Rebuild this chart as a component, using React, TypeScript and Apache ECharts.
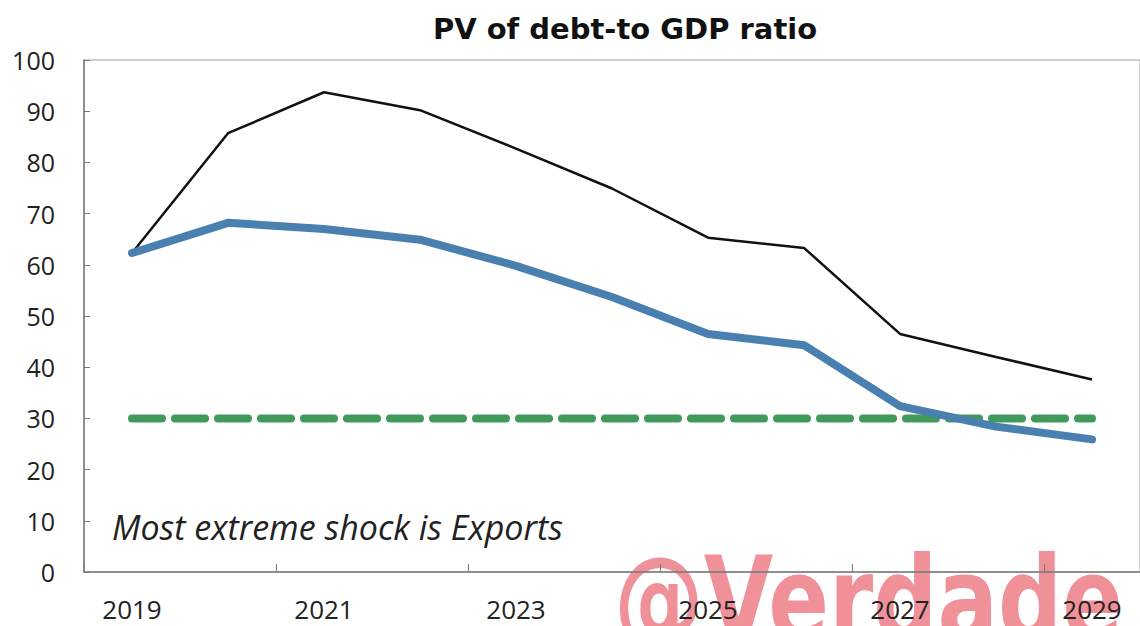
import React, { useEffect, useRef } from "react";
import * as echarts from "echarts";

const years = ["2019", "2020", "2021", "2022", "2023", "2024", "2025", "2026", "2027", "2028", "2029"];
const extremeShock = [62.3, 85.7, 93.7, 90.2, 82.7, 74.9, 65.3, 63.3, 46.5, 42.0, 37.6];
const baseline = [62.3, 68.2, 67.0, 64.9, 59.8, 53.7, 46.5, 44.3, 32.4, 28.4, 25.9];
const threshold = [30, 30, 30, 30, 30, 30, 30, 30, 30, 30, 30];

const titleText = "PV of debt-to GDP ratio";
const noteText = "Most extreme shock is Exports";
const watermarkText = "@Verdade";

export default function App() {
  const ref = useRef<HTMLDivElement>(null);

  useEffect(() => {
    if (!ref.current) return;
    const chart = echarts.init(ref.current, undefined, { renderer: "svg" });
    const font = "'Open Sans', 'Noto Sans', sans-serif";
    chart.setOption({
      animation: false,
      backgroundColor: "#ffffff",
      title: {
        text: titleText,
        left: 620,
        top: 9,
        textAlign: "center",
        textStyle: { fontFamily: "'DejaVu Sans', sans-serif", fontSize: 29, fontWeight: "bold", color: "#111" },
      },
      grid: {
        left: 84,
        top: 60,
        bottom: 54,
        right: -9,
        show: true,
        borderColor: "#a0a0a0",
        borderWidth: 1,
        backgroundColor: "transparent",
      },
      xAxis: {
        type: "category",
        data: years,
        boundaryGap: true,
        axisLine: { lineStyle: { color: "#7a7a7a", width: 1.5 } },
        axisTick: { show: true, inside: true, interval: 1, length: 8, lineStyle: { color: "#7a7a7a" } },
        axisLabel: { interval: 1, margin: 24, fontFamily: font, fontSize: 26, color: "#222" },
        splitLine: { show: false },
      },
      yAxis: {
        type: "value",
        min: 0,
        max: 100,
        interval: 10,
        axisLine: { show: true, lineStyle: { color: "#7a7a7a", width: 1.5 } },
        axisTick: { show: true, inside: true, length: 6, lineStyle: { color: "#7a7a7a" } },
        axisLabel: { margin: 29, fontFamily: font, fontSize: 25, color: "#222" },
        splitLine: { show: false },
      },
      graphic: [
        {
          type: "text",
          z: -1,
          x: 614,
          y: 541,
          scaleX: 0.78,
          style: {
            text: watermarkText,
            fontFamily: "'DejaVu Sans', sans-serif",
            fontWeight: "bold",
            fontSize: 115,
            fill: "#f0919a",
            textVerticalAlign: "top",
          },
        },
        {
          type: "text",
          x: 112,
          y: 527,
          style: {
            text: noteText,
            fontFamily: font,
            fontStyle: "italic",
            fontSize: 34,
            fill: "#222",
            textVerticalAlign: "middle",
          },
        },
      ],
      series: [
        {
          name: "Threshold",
          type: "line",
          data: threshold,
          symbol: "none",
          lineStyle: { color: "#3f9a5c", width: 8, type: [30, 13], cap: "round" },
          z: 2,
        },
        {
          name: "Most extreme shock",
          type: "line",
          data: extremeShock,
          symbol: "none",
          lineStyle: { color: "#111111", width: 2.5 },
          z: 3,
        },
        {
          name: "Baseline",
          type: "line",
          data: baseline,
          symbol: "none",
          lineStyle: { color: "#4a80b0", width: 8, join: "round", cap: "round" },
          z: 4,
        },
      ],
    });
    return () => chart.dispose();
  }, []);

  return (
    <div
      ref={ref}
      style={{ position: "fixed", left: 0, top: 0, width: 1140, height: 626 }}
    />
  );
}
